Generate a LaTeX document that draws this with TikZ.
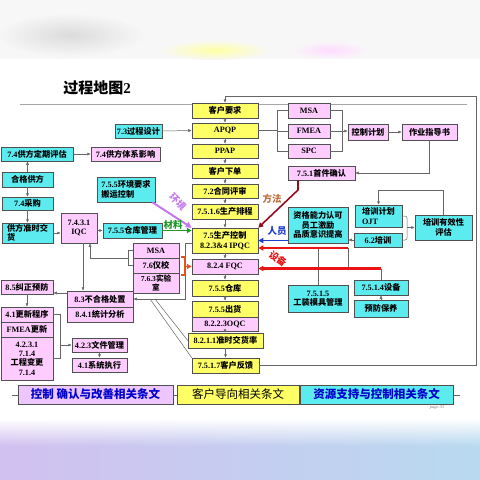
\documentclass[tikz,border=0pt]{standalone}
\usepackage{fontspec}
\setmainfont{Liberation Serif}
\newfontfamily\cjk{Noto Sans CJK SC}
\usetikzlibrary{arrows.meta,shadows,fadings}
\XeTeXinterchartokenstate=1
\newXeTeXintercharclass\cjkcls
\newcount\cc
\cc="4E00
\loop\ifnum\cc<"A000 \XeTeXcharclass\cc=\cjkcls \advance\cc by 1 \repeat
\XeTeXinterchartoks 0 \cjkcls = {\cjk}
\XeTeXinterchartoks 4095 \cjkcls = {\cjk}
\XeTeXinterchartoks \cjkcls 0 = {\rmfamily}
\XeTeXinterchartoks 4095 0 = {\rmfamily}
\definecolor{Y}{RGB}{255,255,102}
\definecolor{P}{RGB}{255,204,255}
\definecolor{C}{RGB}{92,236,240}
\definecolor{LP}{RGB}{236,198,252}
\definecolor{Bd}{RGB}{80,80,80}
\definecolor{Purp}{RGB}{196,120,240}
\definecolor{Grn}{RGB}{30,150,40}
\definecolor{DRed}{RGB}{150,10,30}
\definecolor{Blu}{RGB}{30,60,210}
\definecolor{Rd}{RGB}{235,20,20}
\definecolor{Org}{RGB}{230,80,30}
\definecolor{Brn}{RGB}{190,110,60}
\definecolor{LBlue}{RGB}{0,0,205}
\newcommand\fs{\fontsize{8.2}{9.3}\selectfont\bfseries}
\tikzset{
  bx/.style={draw=Bd, line width=0.5pt, inner sep=0.5pt, align=center, font=\fs,
    drop shadow={shadow xshift=0.8pt, shadow yshift=-0.8pt, fill=black!40, opacity=1}},
  ln/.style={draw=black!60, line width=0.5pt},
  arr/.style={ln, -{Latex[length=3.5pt,width=3pt]}},
  pa/.style={draw=Purp, line width=2pt, -{Triangle[length=6pt,width=6pt]}},
  ga/.style={draw=Grn, line width=1.6pt, -{Triangle[length=5pt,width=5pt]}},
  ra/.style={draw=DRed, line width=1.6pt, -{Triangle[length=5pt,width=5pt]}},
  ba/.style={draw=Blu, line width=1.6pt, -{Triangle[length=5pt,width=5pt]}},
  rda/.style={draw=Rd, line width=2.2pt, -{Triangle[length=5pt,width=5pt]}},
  oa/.style={draw=Org, line width=1.6pt},
  lab/.style={font=\fontsize{9.5}{9.5}\selectfont\bfseries, inner sep=0pt},
  lg/.style={draw=Bd, line width=0.5pt, inner sep=0pt, font=\fontsize{11.5}{12}\selectfont\bfseries},
}
\newcommand\B[8][]{\node[bx,fill=#7,minimum width={(#5-#3)*1pt},minimum height={(#6-#4)*1pt},#1] (#2) at ({(#3+#5)/2},{(#4+#6)/2}) {#8};}
\begin{document}
\begin{tikzpicture}[x=1pt,y=-1pt]
\useasboundingbox (0,0) rectangle (480,480);
% background bands
\fill[gray!6] (0,0) rectangle (480,59);
\shade[inner color=gray!28, outer color=gray!6] (70,35) ellipse (75 and 22);
\shade[inner color=yellow!35, outer color=gray!6] (215,50) ellipse (55 and 10);
\shade[inner color=magenta!14, outer color=gray!6] (330,50) ellipse (40 and 9);
\shade[left color={rgb,255:red,210;green,192;blue,240}, middle color={rgb,255:red,236;green,236;blue,190}, right color={rgb,255:red,184;green,218;blue,240}] (0,420) rectangle (480,480);
\fill[white, path fading=south] (0,419) rectangle (480,446);
% title
\node[inner sep=0pt] (title) at (97,88) {\fontsize{15}{15}\selectfont\bfseries 过程地图2};
\draw[gray!70, line width=0.6pt] (20,104) -- (467,104);
% central column
\B{kh}{192}{103}{258}{118}{Y}{客户要求}
\B{apqp}{192}{123}{258}{138}{Y}{APQP}
\B{ppap}{192}{144}{258}{158}{Y}{PPAP}
\B{xd}{192}{164}{258}{178}{Y}{客户下单}
\B{ht}{192}{184}{258}{198}{Y}{7.2合同评审}
\B{pc}{192}{204}{258}{219}{Y}{7.5.1.6生产排程}
\B{sc}{192}{228}{258}{253}{Y}{7.5生产控制\\8.2.3\&4 IPQC}
\B{fqc}{192}{259}{258}{274}{P}{8.2.4 FQC}
\B{ck}{192}{280}{258}{296}{Y}{7.5.5仓库}
\B{oqc}{192}{317}{258}{331}{P}{8.2.2.3OQC}
\B{ch}{192}{301}{258}{317}{Y}{7.5.5出货}
\B{jh}{188}{333}{263}{348}{Y}{8.2.1.1准时交货率}
\B{fk}{192}{358}{259}{373}{Y}{7.5.1.7客户反馈}
% right side
\B{msa}{288}{103}{330}{118}{P}{MSA}
\B{fmea}{288}{124}{330}{138}{P}{FMEA}
\B{spc}{288}{144}{330}{158}{P}{SPC}
\B{sj}{288}{166}{355}{180}{P}{7.5.1首件确认}
\B{kz}{348}{124}{388}{140}{P}{控制计划}
\B{zy}{402}{124}{457}{140}{P}{作业指导书}
\B{zg}{288}{207}{348}{243}{C}{资格能力认可\\员工激励\\品质意识提高}
\B[align=left]{px}{355}{205}{402}{227}{C}{培训计划\\OJT}
\B{pt}{354}{233}{402}{247}{C}{6.2培训}
\B{yx}{415}{215}{472}{240}{C}{培训有效性\\评估}
\B{gz}{288}{285}{348}{312}{C}{7.5.1.5\\工装模具管理}
\B{sb}{354}{280}{408}{295}{C}{7.5.1.4设备}
\B{yf}{354}{300}{408}{317}{C}{预防保养}
% left side
\B{gc}{115}{124}{162}{138}{C}{7.3过程设计}
\B{dq}{1}{147}{73}{161}{C}{7.4供方定期评估}
\B{tx}{91}{147}{160}{161}{P}{7.4供方体系影响}
\B{hg}{2}{172}{53}{187}{C}{合格供方}
\B{cg}{2}{197}{53}{210}{C}{7.4采购}
\B[align=left]{zs}{2}{223}{53}{243}{C}{供方准时交\\货}
\B{iqc}{61}{213}{97}{243}{P}{7.4.3.1\\IQC}
\B[align=left]{hjy}{97}{177}{155}{202}{C}{7.5.5环境要求\\搬运控制}
\B{ckgl}{103}{223}{162}{238}{C}{7.5.5仓库管理}
\B{msa2}{133}{243}{179}{258}{P}{MSA}
\B{yj}{133}{258}{179}{273}{P}{7.6仪校}
\B[font=\fontsize{7.6}{8.4}\selectfont\bfseries]{sys}{133}{273}{179}{293}{P}{7.6.3实验\\室}
\B{jz}{1}{280}{53}{294}{P}{8.5纠正预防}
\B{bhg}{67}{291}{133}{307}{P}{8.3不合格处置}
\B{tj}{67}{307}{133}{322}{P}{8.4.1统计分析}
\B{gx}{1}{307}{53}{322}{P}{4.1更新程序}
\B{fm}{1}{322}{53}{337}{P}{FMEA更新}
\B{gcbg}{1}{337}{53}{380}{P}{4.2.3.1\\7.1.4\\工程变更\\7.1.4}
\B{wj}{72}{338}{127}{352}{P}{4.2.3文件管理}
\B{xt}{72}{358}{127}{372}{P}{4.1系统执行}
% central chain
\foreach \a/\b in {kh/apqp,apqp/ppap,ppap/xd,xd/ht,ht/pc,pc/sc,sc/fqc,fqc/ck,ck/ch,oqc/jh,jh/fk}
  \draw[arr] (\a.south) -- (\a.south |- \b.north);
% feedback loop
\draw[arr] (fk.east) -| (476,96) -| (kh.north);
% APQP bracket
\draw[ln] (apqp.east) -- (277,130.5);
\draw[ln] (msa.west) -| (277,151) -- (spc.west);
\draw[ln] (fmea.west) -- (277,131);
\draw[ln] (msa.east) -| (342,151) -- (spc.east);
\draw[arr] (fmea.east) -- (kz.west |- fmea.east);
\draw[arr] (kz.east) -- (zy.west);
\draw[arr] (zy.south) |- (sj.east);
\draw[arr] (gc.east) -- (apqp.west);
% left column
\draw[arr] (dq.east) -- (tx.west);
\draw[arr] (hg.north) -- (dq.south -| hg.north);
\draw[arr] (hg.south) -- (cg.north);
\draw[arr] (cg.south) -- (zs.north);
\draw[arr] (zs.east) -- (iqc.west |- zs.east);
\draw[arr] (iqc.east |- ckgl.west) -- (ckgl.west);
\draw[arr] ([xshift=4pt]iqc.south) -- ([xshift=4pt]iqc.south |- bhg.north);
\draw[ln] (msa2.west) -- (128,250.5) -- (128,265.5) -- (yj.west);
\draw[arr] (128,258) -| ([xshift=11pt]iqc.south);
\draw[arr] ([yshift=-2.5pt]sc.west) -- (185,243) |- (bhg.east);
\draw[ln] (155,299) -- (jh.west);
\draw[ln] (150,299) -- (fk.north west);
\draw[arr] ([yshift=6pt]bhg.west) -- ([yshift=6pt]bhg.west -| jz.east);
\draw[arr] (jz.south) -- (gx.north);
\draw[ln] (gx.east) -| (60,358) -- (gcbg.east |- 0,358);
\draw[arr] (60,345) -- (wj.west);
\draw[arr] (wj.south) -- (xt.north);
% orange bracket
\draw[oa] (181,257) -- (185,257) -- (185,275) -- (181,275);
\draw[oa, -{Triangle[length=5pt,width=5pt]}] (185,266.5) -- (fqc.west);
% coloured inputs
\draw[pa] ([xshift=-3pt]hjy.south east) -- (sc.north west);
\node[lab, text=Purp, rotate=-45] (hjlab) at (178,202) {环境};
\draw[ga] (ckgl.east) -- (sc.west |- ckgl.east);
\node[lab, text=Grn] (cllab) at (173,224.5) {材料};
\draw[ra] (298,180) -- (298,190) -- (sc.north east);
\node[lab, text=Brn] (fflab) at (272,199) {方法};
\draw[ba] (zg.west |- sc.east) -- (sc.east);
\node[lab, text=Blu] (rylab) at (277,231) {人员};
\draw[ln] (gz.north) -- (318,248);
\draw[ln] (348,248) -- (348,268.5);
\draw[ln] (sb.north) -- (381,268.5);
\draw[rda] (348,248) -- ([yshift=-7.5pt]sc.east);
\draw[rda] (381,268.5) -- ([yshift=-2pt]fqc.east);
\node[lab, text=Rd, rotate=-35] (sblab) at (278,258.5) {设备};
% training
\draw[arr] (pt.west) -- (zg.east |- pt.west);
\draw[ln, rounded corners=2pt] (px.east) -- (407,216) -- (407,240) -- (pt.east);
\draw[arr] (407,227.5) -- (yx.west);
\draw[arr] (yx.north) -- (443.5,190) -| (px.north);
\draw[arr] (yf.north) -- (sb.south);
% legend
\draw[ln] (12,395) -- (460,395);
\node[lg, fill=LP, minimum width=155pt, minimum height=19pt, text=LBlue] (l1) at (95.5,394.5) {控制 确认与改善相关条文};
\node[lg, fill=Y, minimum width=122pt, minimum height=19pt, font=\fontsize{11.5}{12}\selectfont] (l2) at (238,394.5) {客户导向相关条文};
\node[lg, fill=C, minimum width=153pt, minimum height=19pt, text=LBlue] (l3) at (376.5,394.5) {资源支持与控制相关条文};
\node[inner sep=0pt, text=gray, font=\fontsize{4.5}{5}\selectfont\itshape] (pg) at (437,407) {page 33};
\end{tikzpicture}
\end{document}
